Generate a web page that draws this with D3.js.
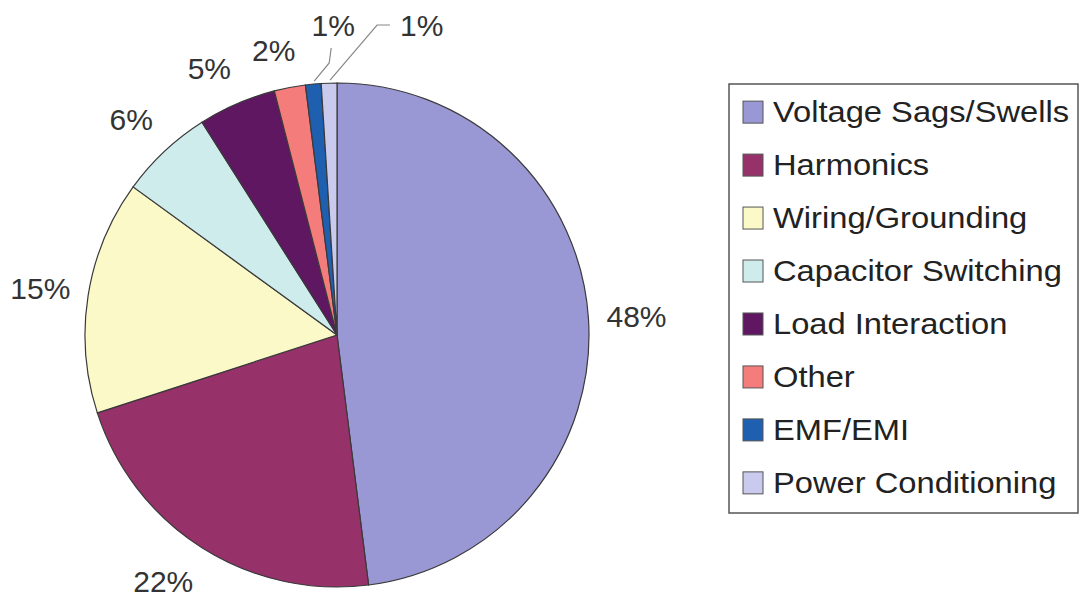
<!DOCTYPE html>
<html>
<head>
<meta charset="utf-8">
<script src="https://cdn.jsdelivr.net/npm/d3@7"></script>
<style>
  body { margin: 0; background: #fff; }
  svg text { font-family: "Liberation Sans", Arial, sans-serif; }
</style>
</head>
<body>
<svg id="chart" width="1089" height="607"></svg>
<script>
// chart data
const categories = ["Voltage Sags/Swells", "Harmonics", "Wiring/Grounding", "Capacitor Switching",
    "Load Interaction", "Other", "EMF/EMI", "Power Conditioning"];
const values = [48, 22, 15, 6, 5, 2, 1, 1];
const labels = ["48%", "22%", "15%", "6%", "5%", "2%", "1%", "1%"];
const colors = ["#9a98d4", "#96316a", "#fcf9c9", "#cfeced", "#5f1762", "#f47d7b", "#1f5fb0", "#cacaee"];

const cx = 337, cy = 335, radius = 252;

const svg = d3.select("#chart");

const pie = d3.pie().sort(null).value((d) => d.value);
const data = pie(categories.map((c, i) => ({ name: c, value: values[i], label: labels[i], color: colors[i] })));

const arc = d3.arc().innerRadius(0).outerRadius(radius);

const g = svg.append("g").attr("transform", `translate(${cx},${cy})`);

g.selectAll("path")
    .data(data)
    .join("path")
    .attr("d", arc)
    .attr("fill", (d) => d.data.color)
    .attr("stroke", "#3a3a3a")
    .attr("stroke-width", 1.2);

// point on a circle of radius r at angle a (0 = 12 o'clock, clockwise)
const pt = (a, r) => [Math.sin(a) * r, -Math.cos(a) * r];
const mid = (d) => (d.startAngle + d.endAngle) / 2;
const clamp = (v) => Math.max(-1, Math.min(1, v));

const fontSize = 30;
const gap = 20;
const boxH = 34;

function addLabel(x, y, text, anchor) {
    return g.append("text")
        .attr("x", x).attr("y", y)
        .attr("text-anchor", anchor || "middle")
        .attr("dominant-baseline", "central")
        .style("font-size", fontSize + "px")
        .style("fill", "#333")
        .text(text);
}

data.forEach((d, i) => {
    const a = mid(d);
    if (i < 6) {
        // box touches the point just outside the rim, pushed outwards
        const [px, py] = pt(a, radius + gap);
        const t = addLabel(0, 0, d.data.label);
        const w = t.node().getComputedTextLength() - 4;
        const sx = clamp(Math.sin(a) / 0.3);
        const sy = clamp(-Math.cos(a) / 0.6);
        t.attr("x", px + sx * w / 2).attr("y", py + sy * boxH / 2);
    } else if (i === 6) {
        // short bent leader going straight up
        const [x0, y0] = pt(a, radius + 1);
        g.append("polyline")
            .attr("points", [[x0 + 1, y0 - 2], [x0 + 16, -radius - 20], [x0 + 18, -radius - 35]].map((p) => p.join(",")).join(" "))
            .attr("fill", "none")
            .attr("stroke", "#888").attr("stroke-width", 1.2);
        addLabel(x0 + 20, -radius - 58, d.data.label);
    } else {
        // angled leader to the right
        const [x0, y0] = pt(a, radius + 1);
        const ly = -radius - 58;
        g.append("polyline")
            .attr("points", [[x0 + 1, y0 - 2], [x0 + 48, ly], [x0 + 61, ly]].map((p) => p.join(",")).join(" "))
            .attr("fill", "none")
            .attr("stroke", "#888").attr("stroke-width", 1.2);
        addLabel(x0 + 71, ly, d.data.label, "start");
    }
});

// legend
const legendW = 349, legendH = 429;
const legend = svg.append("g").attr("transform", "translate(729,84)");
legend.append("rect")
    .attr("width", legendW).attr("height", legendH)
    .attr("fill", "#fff")
    .attr("stroke", "#555").attr("stroke-width", 1.5);

const rowY = d3.scaleBand().domain(categories).range([0, legendH]).paddingOuter(0.05);

const items = legend.selectAll("g.item")
    .data(data)
    .join("g")
    .attr("class", "item")
    .attr("transform", (d) => `translate(14,${rowY(d.data.name) + rowY.bandwidth() / 2 - 1})`);

items.append("rect")
    .attr("x", 0).attr("y", -11)
    .attr("width", 20).attr("height", 22)
    .attr("fill", (d) => d.data.color)
    .attr("stroke", "#555").attr("stroke-width", 1);

items.append("text")
    .attr("transform", "translate(30,0) scale(1.09,1)")
    .attr("dominant-baseline", "central")
    .style("font-size", "30px")
    .style("fill", "#222")
    .text((d) => d.data.name);
</script>
</body>
</html>
